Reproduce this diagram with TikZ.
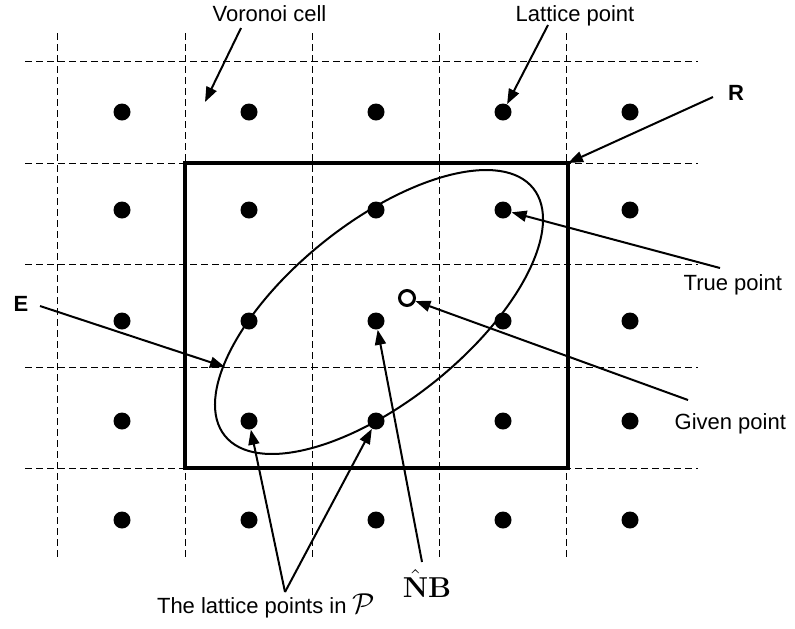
\documentclass[tikz,border=0pt]{standalone}
\usepackage[no-math]{fontspec}
\setmainfont{Liberation Sans}
\usetikzlibrary{arrows.meta}

\begin{document}
\begin{tikzpicture}[x=0.5pt,y=-0.5pt,
    font=\fontsize{11pt}{13pt}\selectfont,
    cellline/.style={dash pattern=on 3.5pt off 2pt,line width=0.5pt},
    dot/.style={circle,fill,inner sep=0pt,minimum size=8.5pt},
    ring/.style={circle,draw,fill=white,line width=1.5pt,inner sep=0pt,minimum size=7.5pt},
    pointer/.style={line width=1pt,-{Triangle[length=7.5pt,width=5.5pt]}}]
    \useasboundingbox (0,0) rectangle (795,628);
    % Voronoi cells
    \foreach \x in {57,185,312,439,566}{
        \draw[cellline] (\x,33) -- (\x,560);
    }
    \foreach \y in {61,163,264,367,468}{
        \draw[cellline] (25,\y) -- (698,\y);
    }
    % lattice points
    \foreach \x [count=\c from 0] in {122,249,376,503,630}{
        \foreach \y [count=\r from 0] in {112,210,321,421,520}{
            \node[dot] (d\c\r) at (\x,\y) {};
        }
    }
    \draw[line width=1.7pt] (185,163) rectangle (568,468);
    \coordinate (corner) at (568,163);
    \draw[line width=1pt,rotate around={38.75:(379,312)}] (379,312) ellipse [x radius=197.7,y radius=89.2];
    \coordinate (rim) at (225,367);
    \node[ring] (given) at (407,298) {};
    \coordinate (cell) at (205,102);
    % labels
    \node[anchor=base] (voronoi) at (269.5,21) {Voronoi cell};
    \node[anchor=base] (lattice) at (575,21) {Lattice point};
    \node[anchor=base,font=\fontsize{11pt}{13pt}\selectfont\bfseries] (region) at (736,100) {R};
    \node[anchor=base,font=\fontsize{11pt}{13pt}\selectfont\bfseries] (ell) at (21,311) {E};
    \node[anchor=base east] (truept) at (789,290) {True point};
    \node[anchor=base east] (givenpt) at (793,429) {Given point};
    \node[anchor=base west] (inP) at (150,613) {The lattice points in {\fontsize{15pt}{15pt}\selectfont$\mathcal{P}$}};
    \node[anchor=base,font=\fontsize{14.5pt}{16pt}\selectfont] (nb) at (427,597) {$\hat{\mathbf{N}}\mathbf{B}$};
    \coordinate (t-voronoi) at (241,28);
    \coordinate (t-lattice) at (548,25);
    \coordinate (t-region) at (713,97);
    \coordinate (t-ell) at (40,306);
    \coordinate (t-true) at (720,268);
    \coordinate (t-given) at (688,400);
    \coordinate (t-nb) at (422,562);
    \coordinate (t-inP) at (285,592);
    % arrows
    \draw[pointer] (t-voronoi) -- (cell);
    \draw[pointer] (t-lattice) -- (d30);
    \draw[pointer] (t-region) -- (corner);
    \draw[pointer] (t-ell) -- (rim);
    \draw[pointer] (t-true) -- (d31);
    \draw[pointer] (t-given) -- (given);
    \draw[pointer] (t-nb) -- (d22);
    \draw[pointer] (t-inP) -- (d13);
    \draw[pointer] (t-inP) -- (d23);
\end{tikzpicture}
\end{document}
